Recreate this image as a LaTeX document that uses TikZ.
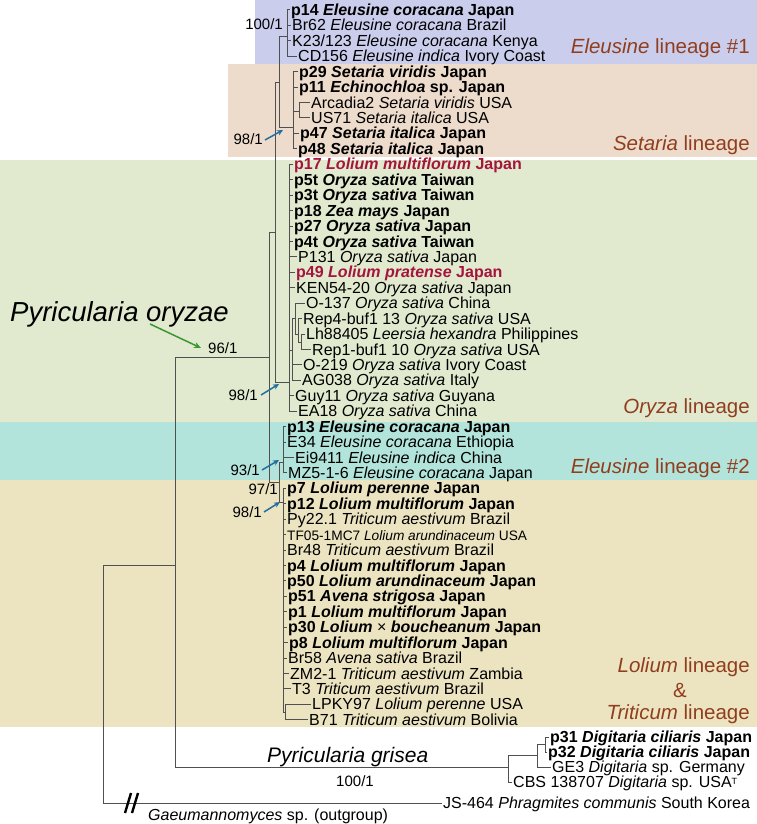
\documentclass[tikz,border=0pt]{standalone}
\usepackage{fontspec}
\setmainfont{Liberation Sans}
\usetikzlibrary{arrows.meta}
\definecolor{bandblue}{RGB}{202,205,235}
\definecolor{bandpeach}{RGB}{237,219,204}
\definecolor{bandgreen}{RGB}{225,234,207}
\definecolor{bandteal}{RGB}{179,228,219}
\definecolor{bandtan}{RGB}{236,228,193}
\definecolor{treegray}{RGB}{80,80,80}
\definecolor{crim}{RGB}{165,20,60}
\definecolor{linbrown}{RGB}{145,62,30}
\definecolor{arrblue}{RGB}{35,110,160}
\definecolor{arrgreen}{RGB}{60,150,50}
\begin{document}
\begin{tikzpicture}[x=1pt,y=-1pt,
  leaf/.style={anchor=west,inner xsep=1pt,inner ysep=0pt,text height=11pt,text depth=0pt,font=\fontsize{16}{16}\selectfont},
  br/.style={draw=treegray,line width=1pt},
  sup/.style={inner sep=0pt,text height=10pt,text depth=0pt,font=\fontsize{15}{15}\selectfont},
  lin/.style={anchor=east,inner sep=0pt,text=linbrown,font=\fontsize{20.5}{20.5}\selectfont},
  barr/.style={draw=arrblue,line width=1.5pt,-{Stealth[length=6pt,width=5.5pt]}},
  garr/.style={draw=arrgreen,line width=1.5pt,-{Stealth[length=7pt,width=6pt]}}]
\useasboundingbox (0,0) rectangle (757,824);
% bands
\fill[bandblue] (255,0) rectangle (757,64);
\fill[bandpeach] (228,64) rectangle (757,157);
\fill[bandgreen] (0,160) rectangle (757,422);
\fill[bandteal] (0,422) rectangle (757,480);
\fill[bandtan] (0,480) rectangle (757,727);

% internal nodes
\coordinate (R) at (103,684);
\coordinate (PP) at (175,565);
\coordinate (PO) at (269,357);
\coordinate (B) at (275,232);
\coordinate (C) at (279,83);
\coordinate (E1) at (287,37);
\coordinate (S) at (293,128);
\coordinate (S2) at (299,112);
\coordinate (O) at (289,382);
\coordinate (Q1) at (292,350);
\coordinate (Q2) at (295,318.6);
\coordinate (Q3) at (298,334);
\coordinate (Q4) at (301,342);
\coordinate (E) at (279,482);
\coordinate (EL) at (283,462);
\coordinate (L) at (283,502);
\coordinate (L2) at (285,712);
\coordinate (D0) at (508,767);
\coordinate (D1) at (537,755);
\coordinate (D2) at (545,744.5);

% leaves
\node[leaf] (l0) at (290,10.0) {\textbf{p14 \textit{Eleusine coracana} Japan}};
\node[leaf] (l1) at (291,25.4) {Br62 \textit{Eleusine coracana} Brazil};
\node[leaf] (l2) at (291,40.9) {K23/123 \textit{Eleusine coracana} Kenya};
\node[leaf] (l3) at (297,56.3) {CD156 \textit{Eleusine indica} Ivory Coast};
\node[leaf] (l4) at (298,71.7) {\textbf{p29 \textit{Setaria viridis} Japan}};
\node[leaf] (l5) at (298,87.2) {\textbf{p11 \textit{Echinochloa} sp. Japan}};
\node[leaf] (l6) at (310,102.6) {Arcadia2 \textit{Setaria viridis} USA};
\node[leaf] (l7) at (310,118.0) {US71 \textit{Setaria italica} USA};
\node[leaf] (l8) at (299,133.4) {\textbf{p47 \textit{Setaria italica} Japan}};
\node[leaf] (l9) at (297,148.9) {\textbf{p48 \textit{Setaria italica} Japan}};
\node[leaf,text=crim] (l10) at (293,164.3) {\textbf{p17 \textit{Lolium multiflorum} Japan}};
\node[leaf] (l11) at (293,179.7) {\textbf{p5t \textit{Oryza sativa} Taiwan}};
\node[leaf] (l12) at (293,195.2) {\textbf{p3t \textit{Oryza sativa} Taiwan}};
\node[leaf] (l13) at (293,210.6) {\textbf{p18 \textit{Zea mays} Japan}};
\node[leaf] (l14) at (293,226.0) {\textbf{p27 \textit{Oryza sativa} Japan}};
\node[leaf] (l15) at (293,241.5) {\textbf{p4t \textit{Oryza sativa} Taiwan}};
\node[leaf] (l16) at (297,256.9) {P131 \textit{Oryza sativa} Japan};
\node[leaf,text=crim] (l17) at (295,272.3) {\textbf{p49 \textit{Lolium pratense} Japan}};
\node[leaf] (l18) at (295,287.7) {KEN54-20 \textit{Oryza sativa} Japan};
\node[leaf] (l19) at (305,303.2) {O-137 \textit{Oryza sativa} China};
\node[leaf] (l20) at (302,318.6) {Rep4-buf1 13 \textit{Oryza sativa} USA};
\node[leaf] (l21) at (305,334.0) {Lh88405 \textit{Leersia hexandra} Philippines};
\node[leaf] (l22) at (311,349.5) {Rep1-buf1 10 \textit{Oryza sativa} USA};
\node[leaf] (l23) at (302,364.9) {O-219 \textit{Oryza sativa} Ivory Coast};
\node[leaf] (l24) at (301,380.3) {AG038 \textit{Oryza sativa} Italy};
\node[leaf] (l25) at (294,395.8) {Guy11 \textit{Oryza sativa} Guyana};
\node[leaf] (l26) at (297,411.2) {EA18 \textit{Oryza sativa} China};
\node[leaf] (l27) at (286,426.6) {\textbf{p13 \textit{Eleusine coracana} Japan}};
\node[leaf] (l28) at (286,442.0) {E34 \textit{Eleusine coracana} Ethiopia};
\node[leaf] (l29) at (294,457.5) {Ei9411 \textit{Eleusine indica} China};
\node[leaf] (l30) at (287,472.9) {MZ5-1-6 \textit{Eleusine coracana} Japan};
\node[leaf] (l31) at (286,488.3) {\textbf{p7 \textit{Lolium perenne} Japan}};
\node[leaf] (l32) at (286,503.8) {\textbf{p12 \textit{Lolium multiflorum} Japan}};
\node[leaf] (l33) at (286,519.2) {Py22.1 \textit{Triticum aestivum} Brazil};
\node[leaf] (l34) at (286,534.6) {\fontsize{13.7}{13.7}\selectfont TF05-1MC7 \textit{Lolium arundinaceum} USA};
\node[leaf] (l35) at (286,550.1) {Br48 \textit{Triticum aestivum} Brazil};
\node[leaf] (l36) at (286,565.5) {\textbf{p4 \textit{Lolium multiflorum} Japan}};
\node[leaf] (l37) at (286,580.9) {\textbf{p50 \textit{Lolium arundinaceum} Japan}};
\node[leaf] (l38) at (287,596.3) {\textbf{p51 \textit{Avena strigosa} Japan}};
\node[leaf] (l39) at (287,611.8) {\textbf{p1 \textit{Lolium multiflorum} Japan}};
\node[leaf] (l40) at (287,627.2) {\textbf{p30 \textit{Lolium} {\mdseries\upshape ×} \textit{boucheanum} Japan}};
\node[leaf] (l41) at (288,642.6) {\textbf{p8 \textit{Lolium multiflorum} Japan}};
\node[leaf] (l42) at (287,658.1) {Br58 \textit{Avena sativa} Brazil};
\node[leaf] (l43) at (289,673.5) {ZM2-1 \textit{Triticum aestivum} Zambia};
\node[leaf] (l44) at (291,688.9) {T3 \textit{Triticum aestivum} Brazil};
\node[leaf] (l45) at (311,704.4) {LPKY97 \textit{Lolium perenne} USA};
\node[leaf] (l46) at (308,719.8) {B71 \textit{Triticum aestivum} Bolivia};
\node[leaf] (d31) at (549,737) {\textbf{p31 \textit{Digitaria ciliaris} Japan}};
\node[leaf] (d32) at (547,752) {\textbf{p32 \textit{Digitaria ciliaris} Japan}};
\node[leaf] (ge3) at (551,767) {GE3 \textit{Digitaria} sp. Germany};
\node[leaf] (cbs) at (512,782) {CBS 138707 \textit{Digitaria} sp. USA\raisebox{3.5pt}{\fontsize{9}{9}\selectfont T}};
\node[leaf] (js) at (442,803) {JS-464 \textit{Phragmites communis} South Korea};

% branches
\draw[br] (R) |- (PP);
\draw[br] (R) |- (js.west);
\draw[br] (PP) |- (PO);
\draw[br] (PP) |- (D0);
\draw[br] (PO) |- (B);
\draw[br] (PO) |- (E);
\draw[br] (B) |- (C);
\draw[br] (B) |- (O);
\draw[br] (C) |- (E1);
\draw[br] (C) |- (S);
\foreach \n in {l0,l1,l2,l3} \draw[br] (E1) |- (\n.west);
\foreach \n in {l4,l5,l8,l9} \draw[br] (S) |- (\n.west);
\draw[br] (S) |- (S2);
\foreach \n in {l6,l7} \draw[br] (S2) |- (\n.west);
\foreach \n in {l10,l11,l12,l13,l14,l15,l16,l17,l18,l25,l26} \draw[br] (O) |- (\n.west);
\draw[br] (O) |- (Q1);
\draw[br] (Q1) |- (Q2);
\foreach \n in {l23,l24} \draw[br] (Q1) |- (\n.west);
\draw[br] (Q2) |- (l19.west);
\draw[br] (Q2) |- (Q3);
\draw[br] (Q3) |- (l20.west);
\draw[br] (Q3) |- (Q4);
\foreach \n in {l21,l22} \draw[br] (Q4) |- (\n.west);
\draw[br] (E) |- (EL);
\draw[br] (E) |- (L);
\foreach \n in {l27,l28,l29,l30} \draw[br] (EL) |- (\n.west);
\foreach \n in {l31,l32,l33,l34,l35,l36,l37,l38,l39,l40,l41,l42,l43,l44} \draw[br] (L) |- (\n.west);
\draw[br] (L) |- (L2);
\foreach \n in {l45,l46} \draw[br] (L2) |- (\n.west);
\draw[br] (D0) |- (D1);
\draw[br] (D0) |- (cbs.west);
\draw[br] (D1) |- (D2);
\draw[br] (D1) |- (ge3.west);
\foreach \n in {d31,d32} \draw[br] (D2) |- (\n.west);

% break mark
\draw[black,line width=2.4pt] (125,813) -- (131,793) (132,813) -- (138,793);

% support values
\node[sup,anchor=east] (s1) at (283,25) {100/1};
\node[sup,anchor=east] (s2) at (263,140) {98/1};
\node[sup,anchor=west] (s3) at (208,348) {96/1};
\node[sup,anchor=east] (s4) at (258,395) {98/1};
\node[sup,anchor=east] (s5) at (260,470) {93/1};
\node[sup,anchor=east] (s6) at (278,489) {97/1};
\node[sup,anchor=east] (s7) at (262,512) {98/1};
\node[sup] (s8) at (355,781) {100/1};

\coordinate (t2) at (283,130);
\coordinate (t4) at (279,384);
\coordinate (t5) at (279,460);
\coordinate (t7) at (280,502);
\draw[barr] ([xshift=2pt]s2.east) -- (t2);
\draw[barr] ([xshift=3pt]s4.east) -- (t4);
\draw[barr] ([xshift=2pt]s5.east) -- (t5);
\draw[barr] ([xshift=2pt]s7.east) -- (t7);

% species labels
\node[anchor=base west,inner sep=0pt,font=\fontsize{27.5}{27.5}\selectfont\itshape] (por) at (10,321) {Pyricularia oryzae};
\coordinate (g1) at (150,324);
\coordinate (g2) at (201,348);
\draw[garr] (g1) -- (g2);
\node[anchor=base west,inner sep=0pt,font=\fontsize{21}{21}\selectfont\itshape] (pgr) at (267,762) {Pyricularia grisea};
\node[leaf] (gae) at (147,815) {\textit{Gaeumannomyces} sp. (outgroup)};

% lineage labels
\node[lin] (ln1) at (750,48) {\textit{Eleusine} lineage \#1};
\node[lin] (ln2) at (750,145) {\textit{Setaria} lineage};
\node[lin] (ln3) at (750,408) {\textit{Oryza} lineage};
\node[lin] (ln4) at (750,468) {\textit{Eleusine} lineage \#2};
\node[lin] (ln5) at (750,667) {\textit{Lolium} lineage};
\node[lin,anchor=center] (ln6) at (680,690) {\&};
\node[lin] (ln7) at (750,714) {\textit{Triticum} lineage};
\end{tikzpicture}
\end{document}
